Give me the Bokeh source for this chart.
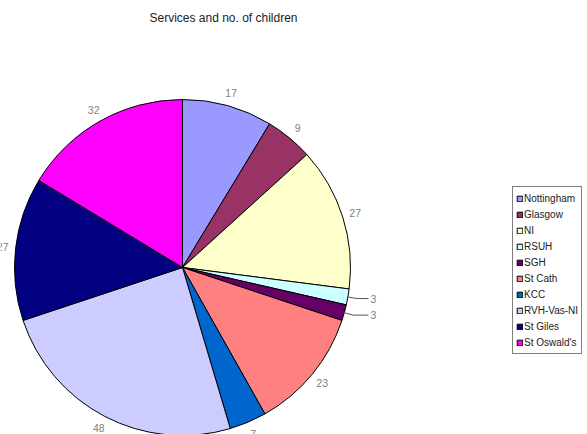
import numpy as np
from bokeh.plotting import figure
from bokeh.models import Range1d, Legend, LegendItem, Label, ColumnDataSource
from bokeh.core.properties import value
from bokeh.embed import file_html
from bokeh.resources import INLINE

categories = ["Nottingham", "Glasgow", "NI", "RSUH", "SGH", "St Cath", "KCC",
              "RVH-Vas-NI", "St Giles", "St Oswald's"]
counts = [17, 9, 27, 3, 3, 23, 7, 48, 27, 32]
colors = ["#9999FF", "#993366", "#FFFFCC", "#CCFFFF", "#660066", "#FF8080",
          "#0066CC", "#CCCCFF", "#000080", "#FF00FF"]
title_text = "Services and no. of children"

W, H = 587, 434
p = figure(width=W, height=H, output_backend="svg", toolbar_location=None,
           x_range=Range1d(0, W), y_range=Range1d(0, H),
           x_axis_type=None, y_axis_type=None, min_border=0)
p.outline_line_color = None
p.grid.visible = False

cx, cy, R = 182, 167, 168
vals = np.array(counts, dtype=float)
total = vals.sum()
cum = np.concatenate([[0], np.cumsum(vals)])
start = np.pi / 2 - cum[1:] / total * 2 * np.pi
end = np.pi / 2 - cum[:-1] / total * 2 * np.pi
mid = (start + end) / 2

src = ColumnDataSource(dict(start=start, end=end, color=colors, cat=categories))
r = p.wedge(x=cx, y=cy, radius=R, start_angle="start", end_angle="end",
            fill_color="color", line_color="black", line_width=1, source=src)

small = vals / total < 0.03
big = ~small
lx = cx + 181 * np.cos(mid[big])
ly = cy + 181 * np.sin(mid[big])
p.text(x=lx, y=ly, text=[str(c) for c, b in zip(counts, big) if b], text_align="center",
       text_baseline="middle", text_font=value("Liberation Sans"),
       text_font_size="10.5px", text_color="#808080")

# leader lines + labels for small slices
sm = np.where(small)[0]
ex = cx + R * np.cos(mid[sm])
ey = cy + R * np.sin(mid[sm])
bx = cx + (R + 9) * np.cos(mid[sm])
by = cy + (R + 9) * np.sin(mid[sm])
tx = cx + 186
p.multi_line(xs=[[a, b, tx] for a, b in zip(ex, bx)],
             ys=[[a, b, b] for a, b in zip(ey, by)],
             line_color="#555555", line_width=1)
p.text(x=[tx + 2] * len(sm), y=by, text=[str(counts[i]) for i in sm],
       text_align="left", text_baseline="middle",
       text_font=value("Liberation Sans"), text_font_size="10.5px",
       text_color="#808080")

p.add_layout(Label(x=223, y=417, text=title_text, text_align="center",
                   text_baseline="middle", text_font="Liberation Sans",
                   text_font_size="12px", text_color="#222222"))

items = [LegendItem(label=c, renderers=[r], index=i) for i, c in enumerate(categories)]
leg = Legend(items=items, location=(512, 80), orientation="vertical",
             label_text_font="Liberation Sans", label_text_font_size="10px",
             label_text_color="#222222", glyph_width=7, glyph_height=7,
             label_height=16, label_standoff=1, spacing=0, padding=3, margin=0,
             border_line_color="black", border_line_width=1,
             background_fill_color="white", background_fill_alpha=1)
p.add_layout(leg, "center")

open("out.html", "w").write(file_html(p, INLINE))
